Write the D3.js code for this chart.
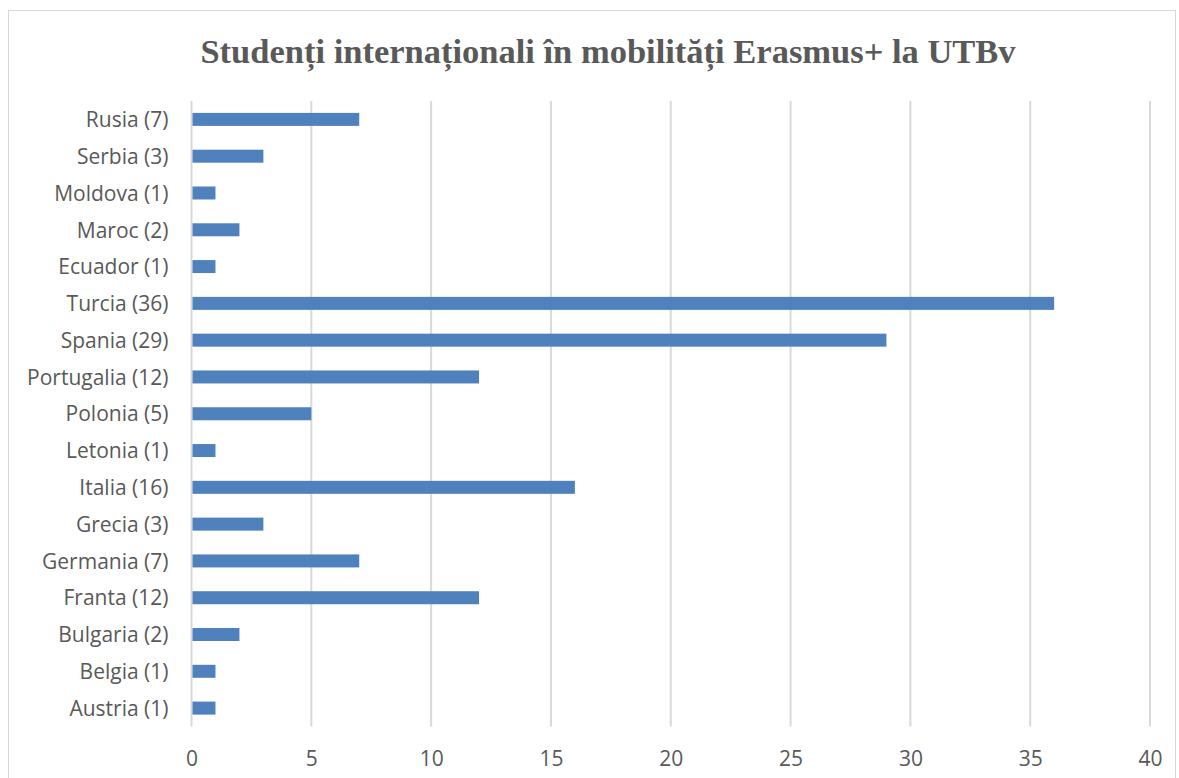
<!DOCTYPE html>
<html>
<head>
<meta charset="utf-8">
<script src="https://cdn.jsdelivr.net/npm/d3@7"></script>
<style>
  body { margin: 0; background: #fff; }
</style>
</head>
<body>
<div id="chart"></div>
<script>
// data, bottom to top as in the picture
const countries = ["Austria (1)", "Belgia (1)", "Bulgaria (2)", "Franta (12)", "Germania (7)", "Grecia (3)",
    "Italia (16)", "Letonia (1)", "Polonia (5)", "Portugalia (12)", "Spania (29)", "Turcia (36)",
    "Ecuador (1)", "Maroc (2)", "Moldova (1)", "Serbia (3)", "Rusia (7)"];
const students = [1, 1, 2, 12, 7, 3, 16, 1, 5, 12, 29, 36, 1, 2, 1, 3, 7];
const xTicks = [0, 5, 10, 15, 20, 25, 30, 35, 40];
const title = "Studenți internaționali în mobilități Erasmus+ la UTBv";

const width = 1179;
const height = 778;
const plot = { left: 191.5, right: 1150, top: 101, bottom: 726.5 };
const txtColor = "#595959";

const data = countries.map((c, i) => ({ name: c, value: students[i] }));

const svg = d3.select("#chart").append("svg")
    .attr("width", width)
    .attr("height", height);

// chart border
svg.append("rect")
    .attr("x", 8.5).attr("y", 10.5)
    .attr("width", 1167).attr("height", 780)
    .attr("fill", "#fff")
    .attr("stroke", "#d9d9d9")
    .attr("stroke-width", 1);

svg.append("text")
    .attr("x", 608)
    .attr("y", 63)
    .attr("text-anchor", "middle")
    .style("font-family", "'Liberation Serif', 'DejaVu Serif', serif")
    .style("font-weight", "bold")
    .style("font-size", "34.5px")
    .attr("fill", txtColor)
    .text(title);

const x = d3.scaleLinear()
    .domain([0, 40])
    .range([plot.left, plot.right]);

// reversed so first item sits at the bottom
const y = d3.scaleBand()
    .domain(countries.slice().reverse())
    .range([plot.top, plot.bottom]);

const barH = 13;

// gridlines
svg.append("g")
    .selectAll("line")
    .data(xTicks)
    .enter().append("line")
    .attr("x1", d => x(d)).attr("x2", d => x(d))
    .attr("y1", plot.top).attr("y2", plot.bottom)
    .attr("stroke", "#d9d9d9")
    .attr("stroke-width", 2);

// bars
svg.append("g")
    .selectAll("rect")
    .data(data)
    .enter().append("rect")
    .attr("x", x(0) + 1)
    .attr("y", d => y(d.name) + y.bandwidth() / 2 - barH / 2)
    .attr("width", d => x(d.value) - x(0) - 1)
    .attr("height", barH)
    .attr("fill", "#4f81bd");

// x axis labels
const xAxis = svg.append("g")
    .attr("transform", "translate(0," + plot.bottom + ")")
    .call(d3.axisBottom(x).tickValues(xTicks).tickSize(0).tickPadding(25));
xAxis.select(".domain").remove();
xAxis.selectAll("text")
    .style("font-family", "'Open Sans', 'Noto Sans', sans-serif")
    .style("font-size", "21px")
    .attr("fill", txtColor);

// y axis labels
const yAxis = svg.append("g")
    .attr("transform", "translate(" + plot.left + ",1)")
    .call(d3.axisLeft(y).tickSize(0).tickPadding(23));
yAxis.select(".domain").remove();
yAxis.selectAll("text")
    .style("font-family", "'Open Sans', 'Noto Sans', sans-serif")
    .style("font-size", "21px")
    .attr("fill", txtColor);
</script>
</body>
</html>
